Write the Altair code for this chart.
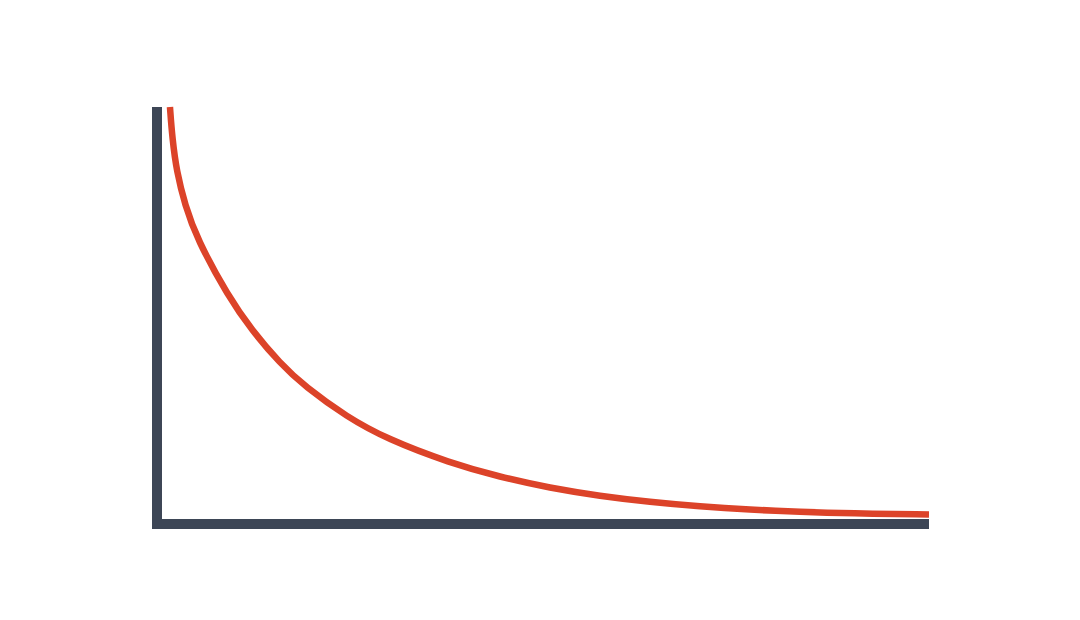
import altair as alt
import pandas as pd

# curve values (x: 0-100 across the plot, y: 0-100 up the plot)
xs = [1.68, 1.98, 2.55, 3.63, 5.14, 9.24, 12.27, 15.93, 19.17, 24.61, 29.79,
      37.95, 44.43, 50.91, 57.38, 63.86, 70.34, 76.81, 83.29, 89.77, 100.0]
ys = [100.0, 92.49, 84.48, 76.50, 68.51, 54.51, 46.52, 38.54, 32.93, 25.66, 20.38,
      14.63, 11.27, 8.63, 6.71, 5.28, 4.20, 3.43, 2.90, 2.54, 2.30]

df = pd.DataFrame({"x": xs, "y": ys})

W, H = 772, 417
AXIS_COLOR = "#3d4656"
LINE_COLOR = "#dc4329"

curve = alt.Chart(df).mark_line(
    color=LINE_COLOR, strokeWidth=6.5, interpolate="basis", clip=False
).encode(
    x=alt.X("x:Q", scale=alt.Scale(domain=[0, 100], nice=False, zero=False), axis=None),
    y=alt.Y("y:Q", scale=alt.Scale(domain=[0, 100], nice=False, zero=False), axis=None),
)

one = alt.Data(values=[{"k": 1}])
yaxis = alt.Chart(one).mark_rule(color=AXIS_COLOR, strokeWidth=10).encode(
    x=alt.value(0), y=alt.value(0), y2=alt.value(H + 5)
)
xaxis = alt.Chart(one).mark_rule(color=AXIS_COLOR, strokeWidth=10).encode(
    x=alt.value(-5), x2=alt.value(W), y=alt.value(H)
)

chart = alt.layer(curve, yaxis, xaxis).properties(
    width=W,
    height=H,
    autosize=alt.AutoSizeParams(type="none"),
    padding={"left": 149, "top": 99, "right": 143, "bottom": 88},
    background="white",
).configure_view(stroke=None)

chart.save("out.html", embed_options={"renderer": "svg", "actions": False})
